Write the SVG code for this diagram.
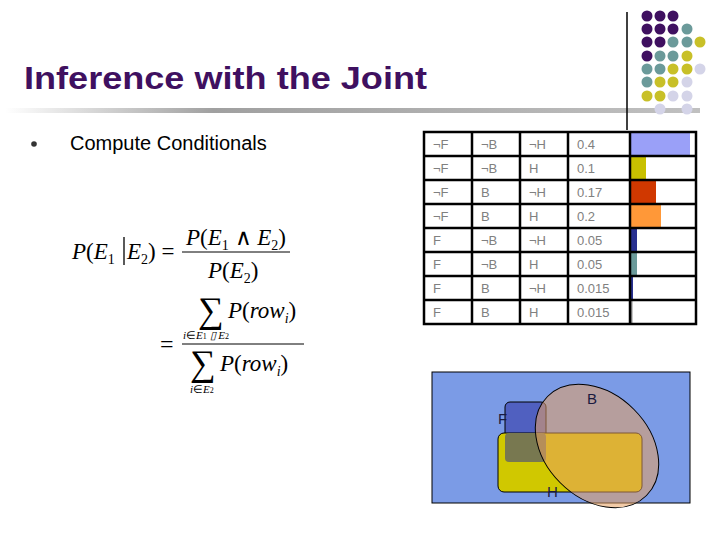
<svg xmlns="http://www.w3.org/2000/svg" width="720" height="540" viewBox="0 0 720 540">
<defs>
<style>
.t{font-family:"Liberation Sans",Arial,sans-serif;font-size:13px;fill:#808080}
.m{font-family:"Liberation Serif","Times New Roman",serif;font-style:italic;fill:#000}
.r{font-family:"Liberation Serif","Times New Roman",serif;font-style:normal;fill:#000}
.P{fill:#3f1060}.T{fill:#6b9a9a}.Y{fill:#c8c028}.L{fill:#d4d4e8}
</style>
<linearGradient id="g" x1="0" x2="1"><stop offset="0" stop-color="#fff"/><stop offset="0.3" stop-color="#a0a0a0"/><stop offset="1" stop-color="#c0c0c0"/></linearGradient>
</defs>
<rect width="720" height="540" fill="#fff"/>
<g id="deco">
<rect x="5" y="108" width="695" height="5" fill="url(#g)"/>
<line x1="627" y1="12" x2="627" y2="130" stroke="#000" stroke-width="1.5"/>
<g>
<circle class="P" cx="647" cy="16" r="5.5"/><circle class="P" cx="660" cy="16" r="5.5"/><circle class="P" cx="673" cy="16" r="5.5"/>
<circle class="P" cx="647" cy="29" r="5.5"/><circle class="P" cx="660" cy="29" r="5.5"/><circle class="P" cx="673" cy="29" r="5.5"/><circle class="T" cx="687" cy="29" r="5.5"/>
<circle class="P" cx="647" cy="42" r="5.5"/><circle class="P" cx="660" cy="42" r="5.5"/><circle class="T" cx="673" cy="42" r="5.5"/><circle class="T" cx="687" cy="42" r="5.5"/><circle class="Y" cx="700" cy="42" r="5.5"/>
<circle class="P" cx="647" cy="56" r="5.5"/><circle class="T" cx="660" cy="56" r="5.5"/><circle class="T" cx="673" cy="56" r="5.5"/><circle class="Y" cx="687" cy="56" r="5.5"/>
<circle class="T" cx="647" cy="69" r="5.5"/><circle class="T" cx="660" cy="69" r="5.5"/><circle class="Y" cx="673" cy="69" r="5.5"/><circle class="Y" cx="687" cy="69" r="5.5"/><circle class="L" cx="700" cy="69" r="5.5"/>
<circle class="T" cx="647" cy="82" r="5.5"/><circle class="Y" cx="660" cy="82" r="5.5"/><circle class="Y" cx="673" cy="82" r="5.5"/><circle class="L" cx="687" cy="82" r="5.5"/>
<circle class="Y" cx="647" cy="96" r="5.5"/><circle class="Y" cx="660" cy="96" r="5.5"/><circle class="L" cx="673" cy="96" r="5.5"/><circle class="L" cx="687" cy="96" r="5.5"/>
<circle class="L" cx="660" cy="109" r="5.5"/><circle class="L" cx="687" cy="109" r="5.5"/>
</g>
</g>
<g id="title"><text x="24" y="89" font-family="Liberation Sans,Arial,sans-serif" font-size="31" font-weight="bold" fill="#3f1060" textLength="403" lengthAdjust="spacingAndGlyphs">Inference with the Joint</text></g>
<g id="bullet"><circle cx="34" cy="144" r="2.8" fill="#333"/><text x="70" y="150" font-family="Liberation Sans,Arial,sans-serif" font-size="20" fill="#000">Compute Conditionals</text></g>
<g id="formula">
<text x="72" y="259" class="m" font-size="23">P<tspan class="r">(</tspan>E<tspan font-size="14" dy="5" class="r">1</tspan></text>
<line x1="124" y1="237" x2="124" y2="265" stroke="#000" stroke-width="1.3"/>
<text x="127" y="259" class="m" font-size="23">E<tspan font-size="14" dy="5" class="r">2</tspan><tspan dy="-5" class="r">) =</tspan></text>
<text x="186" y="245" class="m" font-size="23">P<tspan class="r">(</tspan>E<tspan font-size="14" dy="5" class="r">1</tspan><tspan dy="-5" class="r"> ∧ </tspan>E<tspan font-size="14" dy="5" class="r">2</tspan><tspan dy="-5" class="r">)</tspan></text>
<line x1="182" y1="252" x2="290" y2="252" stroke="#000" stroke-width="1"/>
<text x="208" y="278" class="m" font-size="23">P<tspan class="r">(</tspan>E<tspan font-size="14" dy="5" class="r">2</tspan><tspan dy="-5" class="r">)</tspan></text>
<text x="198" y="322" class="r" font-size="36">∑</text>
<text x="228" y="318" class="m" font-size="23">P<tspan class="r">(</tspan>row<tspan font-size="14" dy="5">i</tspan><tspan dy="-5" class="r">)</tspan></text>
<text x="183" y="339" class="m" font-size="11">i<tspan class="r">∈</tspan>E<tspan font-size="8" class="r">1</tspan> ▯ E<tspan font-size="8" class="r">2</tspan></text>
<text x="160" y="352" class="r" font-size="24">=</text>
<line x1="182" y1="344" x2="304" y2="344" stroke="#000" stroke-width="1"/>
<text x="190" y="375" class="r" font-size="36">∑</text>
<text x="220" y="371" class="m" font-size="23">P<tspan class="r">(</tspan>row<tspan font-size="14" dy="5">i</tspan><tspan dy="-5" class="r">)</tspan></text>
<text x="190" y="393" class="m" font-size="11">i<tspan class="r">∈</tspan>E<tspan font-size="8" class="r">2</tspan></text>
</g>
<g id="table">
<rect x="631" y="133" width="59" height="22" fill="#9aa0f8"/>
<rect x="631" y="157" width="15" height="22" fill="#c8c000"/>
<rect x="631" y="181" width="25" height="22" fill="#d03800"/>
<rect x="631" y="205" width="30" height="22" fill="#ff9838"/>
<rect x="631" y="229" width="6" height="22" fill="#283090"/>
<rect x="631" y="253" width="6" height="22" fill="#6b9a9a"/>
<rect x="631" y="277" width="2" height="22" fill="#283090"/>
<rect x="631" y="301" width="1.5" height="22" fill="#909090"/>
<g stroke="#000" stroke-width="2.5" fill="none">
<rect x="424" y="132" width="272" height="192"/>
<path d="M424 156H696M424 180H696M424 204H696M424 228H696M424 252H696M424 276H696M424 300H696M472 132V324M520 132V324M568 132V324M630 132V324"/>
</g>
<g class="t">
<text x="433" y="149">¬F</text><text x="433" y="173">¬F</text><text x="433" y="197">¬F</text><text x="433" y="221">¬F</text>
<text x="433" y="245">F</text><text x="433" y="269">F</text><text x="433" y="293">F</text><text x="433" y="317">F</text>
<text x="481" y="149">¬B</text><text x="481" y="173">¬B</text><text x="481" y="197">B</text><text x="481" y="221">B</text>
<text x="481" y="245">¬B</text><text x="481" y="269">¬B</text><text x="481" y="293">B</text><text x="481" y="317">B</text>
<text x="529" y="149">¬H</text><text x="529" y="173">H</text><text x="529" y="197">¬H</text><text x="529" y="221">H</text>
<text x="529" y="245">¬H</text><text x="529" y="269">H</text><text x="529" y="293">¬H</text><text x="529" y="317">H</text>
<text x="577" y="149">0.4</text><text x="577" y="173">0.1</text><text x="577" y="197">0.17</text><text x="577" y="221">0.2</text>
<text x="577" y="245">0.05</text><text x="577" y="269">0.05</text><text x="577" y="293">0.015</text><text x="577" y="317">0.015</text>
</g>
</g>
<g id="venn">
<rect x="432" y="372" width="258" height="131" fill="#7b9be6" stroke="#000" stroke-width="1"/>
<rect x="505" y="402" width="41" height="60" rx="5" fill="#5060c0" stroke="#000" stroke-width="1"/>
<rect x="498" y="433" width="144" height="59" rx="6" fill="#d0c800" stroke="#000" stroke-width="1"/>
<rect x="505" y="433" width="41" height="29" rx="4" fill="#787850"/>
<ellipse cx="597" cy="446" rx="70" ry="52" transform="rotate(45 597 446)" fill="#e8a060" fill-opacity="0.55" stroke="#000" stroke-width="1"/>
<text x="498" y="424" font-family="Liberation Sans,Arial,sans-serif" font-size="15" fill="#1a1a40">F</text>
<text x="587" y="404" font-family="Liberation Sans,Arial,sans-serif" font-size="15" fill="#1a1a40">B</text>
<text x="547" y="497" font-family="Liberation Sans,Arial,sans-serif" font-size="15" fill="#1a1a40">H</text>
</g>
</svg>
